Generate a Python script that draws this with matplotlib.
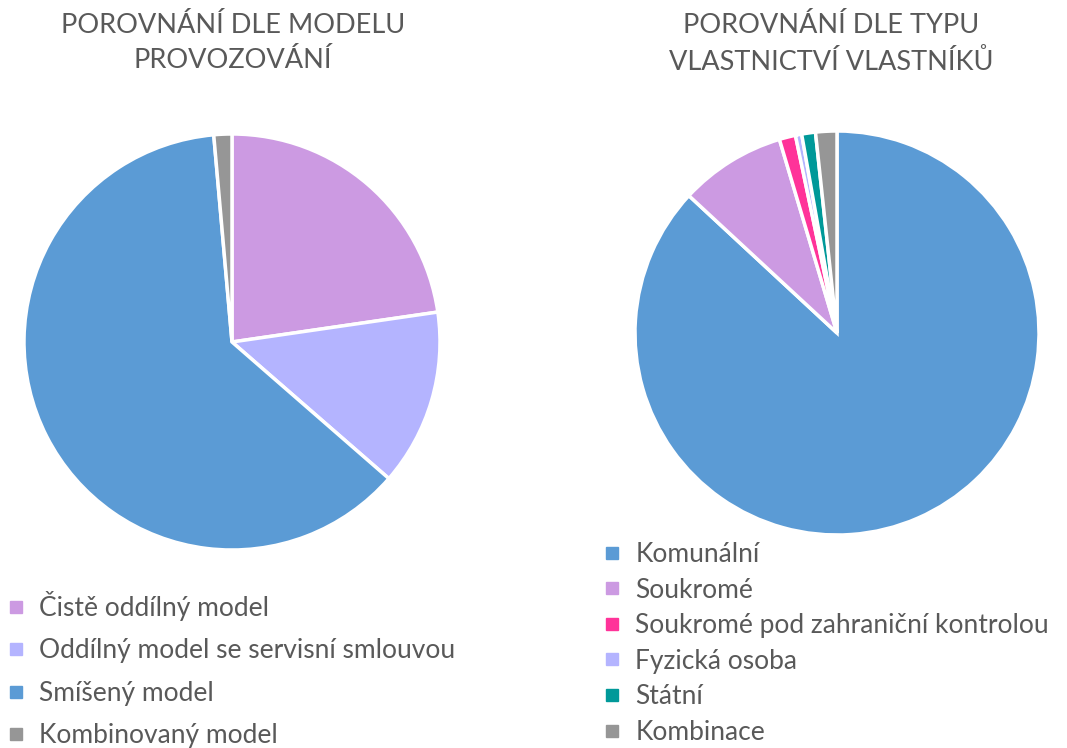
import matplotlib.pyplot as plt
from matplotlib.lines import Line2D

plt.rcParams['font.family'] = ['Lato', 'DejaVu Sans']

# left pie: model of operation
model_labels = ['Čistě oddílný model', 'Oddílný model se servisní smlouvou',
                'Smíšený model', 'Kombinovaný model']
model_values = [22.7, 13.7, 62.2, 1.4]
model_colors = ['#CC9AE2', '#B4B4FF', '#5B9BD5', '#969696']

# right pie: ownership type
own_labels = ['Komunální', 'Soukromé', 'Soukromé pod zahraniční kontrolou',
              'Fyzická osoba', 'Státní', 'Kombinace']
own_values = [86.9, 8.5, 1.3, 0.5, 1.1, 1.7]
own_colors = ['#5B9BD5', '#CC9AE2', '#FF3399', '#B4B4FF', '#009999', '#969696']

txt_color = '#595959'

fig = plt.figure(figsize=(10.67, 7.48), dpi=100)

W, H = 1067, 748

def pie_axes(cx, cy, r):
    return fig.add_axes([(cx - r) / W, (H - cy - r) / H, 2 * r / W, 2 * r / H])

ax1 = pie_axes(232, 342, 208)
ax1.pie(model_values, colors=model_colors, startangle=90, counterclock=False,
        radius=1, wedgeprops=dict(edgecolor='white', linewidth=2.5))
ax1.set_xlim(-1.0, 1.0)
ax1.set_ylim(-1.0, 1.0)

ax2 = pie_axes(837, 333, 202)
ax2.pie(own_values, colors=own_colors, startangle=90, counterclock=False,
        radius=1, wedgeprops=dict(edgecolor='white', linewidth=2.5))
ax2.set_xlim(-1.0, 1.0)
ax2.set_ylim(-1.0, 1.0)

fig.text(233 / W, 1 - 43 / H, 'POROVNÁNÍ DLE MODELU\nPROVOZOVÁNÍ', ha='center', va='center',
         fontsize=19.5, color=txt_color, linespacing=1.5)
fig.text(831 / W, 1 - 44 / H, 'POROVNÁNÍ DLE TYPU\nVLASTNICTVÍ VLASTNÍKŮ', ha='center', va='center',
         fontsize=19.5, color=txt_color, linespacing=1.5)

def handles(colors):
    return [Line2D([], [], marker='s', linestyle='none', markersize=8.5,
                   markerfacecolor=c, markeredgecolor=c) for c in colors]

leg1 = fig.legend(handles(model_colors), model_labels, loc='upper left',
                  bbox_to_anchor=(5 / W, 1 - 591 / H), frameon=False, fontsize=19,
                  labelcolor=txt_color, handlelength=0.8, handletextpad=0.5,
                  labelspacing=0.66, borderpad=0, borderaxespad=0)
leg2 = fig.legend(handles(own_colors), own_labels, loc='upper left',
                  bbox_to_anchor=(601 / W, 1 - 542 / H), frameon=False, fontsize=19,
                  labelcolor=txt_color, handlelength=0.8, handletextpad=0.5,
                  labelspacing=0.40, borderpad=0, borderaxespad=0)

fig.savefig('out.png', dpi=100)
